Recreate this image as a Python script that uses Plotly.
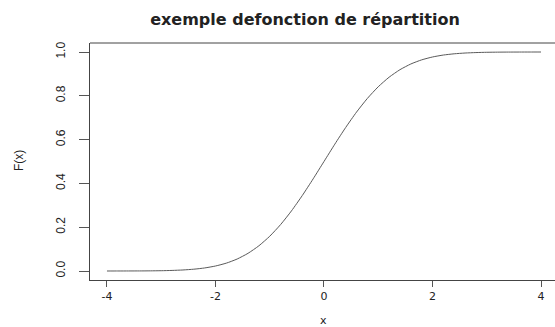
import plotly.graph_objects as go

x_vals = [-4.0, -3.8, -3.6, -3.4, -3.2, -3.0, -2.8, -2.6, -2.4, -2.2, -2.0,
          -1.8, -1.6, -1.4, -1.2, -1.0, -0.8, -0.6, -0.4, -0.2, 0.0,
          0.2, 0.4, 0.6, 0.8, 1.0, 1.2, 1.4, 1.6, 1.8, 2.0,
          2.2, 2.4, 2.6, 2.8, 3.0, 3.2, 3.4, 3.6, 3.8, 4.0]
fx_vals = [0.0000, 0.0001, 0.0002, 0.0003, 0.0007, 0.0013, 0.0026, 0.0047, 0.0082, 0.0139, 0.0228,
           0.0359, 0.0548, 0.0808, 0.1151, 0.1587, 0.2119, 0.2743, 0.3446, 0.4207, 0.5000,
           0.5793, 0.6554, 0.7257, 0.7881, 0.8413, 0.8849, 0.9192, 0.9452, 0.9641, 0.9772,
           0.9861, 0.9918, 0.9953, 0.9974, 0.9987, 0.9993, 0.9997, 0.9998, 0.9999, 1.0000]
x_ticks = [-4, -2, 0, 2, 4]
y_ticks = [0.0, 0.2, 0.4, 0.6, 0.8, 1.0]
y_tick_text = ["0.0", "0.2", "0.4", "0.6", "0.8", "1.0"]
title_text = "exemple defonction de répartition"

W, H = 555, 327
L, R, T, B = 90, 0, 43, 47

fig = go.Figure()
fig.add_trace(go.Scatter(x=x_vals, y=fx_vals, mode="lines",
                         line=dict(color="#5a5a5a", width=1, shape="spline", smoothing=0.6),
                         showlegend=False, hoverinfo="skip"))

font = dict(family="DejaVu Sans, Liberation Sans, Arial, sans-serif", color="#222222")
yfont = dict(family="Liberation Sans, Arial, sans-serif", color="#222222")
fig.update_layout(
    width=W, height=H,
    margin=dict(l=L, r=R, t=T, b=B, pad=0),
    paper_bgcolor="white", plot_bgcolor="white",
    font=dict(size=11, **font),
    title=dict(text="<b>" + title_text + "</b>", x=305 / W, xanchor="center",
               y=1 - 19 / H, yanchor="middle", font=dict(size=16, **font)),
    xaxis=dict(range=[-4.313, 4.258], tickvals=x_ticks, ticktext=[str(v) for v in x_ticks],
               showgrid=False, zeroline=False, showline=True, linecolor="#444444", linewidth=1,
               ticks="outside", ticklen=6, tickcolor="#555555", tickwidth=1,
               tickfont=dict(size=11, **font)),
    yaxis=dict(range=[-0.0411, 1.0411], tickvals=y_ticks, ticktext=y_tick_text,
               showgrid=False, zeroline=False, showline=True, linecolor="#444444", linewidth=1,
               ticks="outside", ticklen=10, tickcolor="#555555", tickwidth=1,
               ticklabelstandoff=9,
               tickangle=-90, tickfont=dict(size=12, **yfont)),
    shapes=[dict(type="line", xref="paper", yref="paper", x0=0, x1=1, y0=1, y1=1,
                 line=dict(color="#444444", width=1))],
    annotations=[
        dict(text="F(x)", xref="paper", yref="paper",
             x=(19 - L) / (W - L - R), y=(H - 161 - B) / (H - T - B),
             xanchor="center", yanchor="middle", showarrow=False, textangle=-90,
             font=dict(size=12, **yfont)),
        dict(text="x", xref="paper", yref="paper",
             x=(323 - L) / (W - L - R), y=(H - 320 - B) / (H - T - B),
             xanchor="center", yanchor="middle", showarrow=False,
             font=dict(size=11, **font)),
    ],
)
fig.write_html("out.html")
